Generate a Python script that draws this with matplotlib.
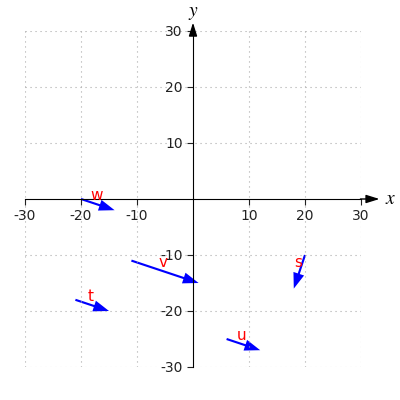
import matplotlib
matplotlib.use('Agg')
import matplotlib.pyplot as plt

plt.rcParams['axes.unicode_minus'] = False
plt.rcParams['mathtext.fontset'] = 'stix'

# vectors: name, start point, components
names = ['w', 'v', 't', 'u', 's']
starts_x = [-20, -11, -21, 6, 20]
starts_y = [0, -11, -18, -25, -10]
comp_x = [6, 12, 6, 6, -2]
comp_y = [-2, -4, -2, -2, -6]

ticks = [-30, -20, -10, 10, 20, 30]

fig = plt.figure(figsize=(4, 4), dpi=100)
ax = fig.add_axes([0.0625, 0.0825, 0.84, 0.84])
ax.set_xlim(-30, 30)
ax.set_ylim(-30, 30)

# centred axes
ax.spines['left'].set_position('zero')
ax.spines['bottom'].set_position('zero')
ax.spines['right'].set_visible(False)
ax.spines['top'].set_visible(False)
ax.spines['left'].set_bounds(-30, 30)
ax.spines['bottom'].set_bounds(-30, 30)
ax.annotate('', xy=(33.3, 0), xytext=(29.9, 0), annotation_clip=False,
            arrowprops=dict(arrowstyle='-|>,head_length=0.8,head_width=0.25',
                            color='black', lw=1, shrinkA=0, shrinkB=0))
ax.annotate('', xy=(0, 31.5), xytext=(0, 29.9), annotation_clip=False,
            arrowprops=dict(arrowstyle='-|>,head_length=0.8,head_width=0.25',
                            color='black', lw=1, shrinkA=0, shrinkB=0))
ax.text(34.2, 0, '$x$', fontsize=14, va='center', ha='left')
ax.text(0, 33.3, '$y$', fontsize=14, va='center', ha='center')

ax.set_xticks(ticks)
ax.set_yticks(ticks)
ax.tick_params(direction='out', length=4, labelsize=10, colors='#222222')
ax.grid(True, linestyle=(0, (1, 3.5)), color='#aaaaaa', linewidth=0.8)

for n, x0, y0, dx, dy in zip(names, starts_x, starts_y, comp_x, comp_y):
    ax.arrow(x0, y0, dx, dy, color='blue', lw=0, width=0.38, head_width=2.0,
             head_length=2.8, length_includes_head=True)
    ax.text(x0 + dx / 2 - 0.3, y0 + dy / 2 + 1.6, n, color='red', fontsize=11,
            ha='center', va='center')

fig.savefig('out.png', dpi=100)
